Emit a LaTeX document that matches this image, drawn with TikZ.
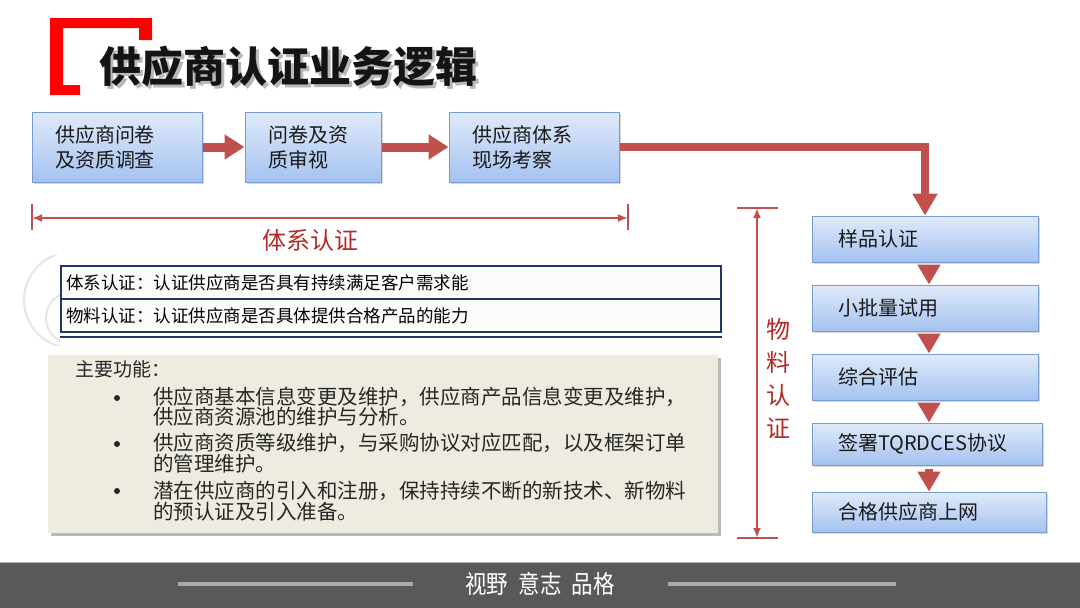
\documentclass[tikz,border=0pt]{standalone}
\usepackage{fontspec}
\setmainfont{Noto Sans CJK SC}
\usetikzlibrary{arrows.meta,shadows,calc}
\definecolor{ared}{RGB}{192,80,77}
\definecolor{dred}{RGB}{180,40,40}
\definecolor{bxtop}{RGB}{224,234,250}
\definecolor{bxbot}{RGB}{164,194,240}
\definecolor{bxline}{RGB}{120,156,206}
\definecolor{navy}{RGB}{31,56,100}
\definecolor{beige}{RGB}{238,236,225}
\definecolor{foot}{RGB}{89,89,89}
\definecolor{footline}{RGB}{170,170,170}
\tikzset{
  flowbox/.style={draw=bxline, line width=1pt, top color=bxtop, bottom color=bxbot,
    drop shadow={shadow xshift=1.5pt,shadow yshift=-2pt,opacity=0.3},
    align=left, inner xsep=23pt, inner ysep=0pt,
    font=\fontsize{20}{25}\selectfont, text=black!90},
  blockarrow/.style={ared, line width=9pt, -{Triangle[length=20pt,width=24pt]}},
  downarrow/.style={ared, line width=8pt, -{Triangle[length=20pt,width=22pt]}},
  dimline/.style={ared, line width=2.5pt, {Latex[length=10pt,width=8pt]}-{Latex[length=10pt,width=8pt]}},
  dimtick/.style={ared, line width=2.5pt},
  defbox/.style={draw=navy, line width=2.2pt, fill=white!97!gray, align=left,
    inner xsep=5pt, anchor=north west, minimum height=33pt,
    font=\fontsize{17.5}{18}\selectfont},
  bodytext/.style={anchor=west, align=left, inner sep=0pt, font=\fontsize{20.5}{20.5}\selectfont, text=black!85},
  bulletmark/.style={circle, fill=black!85, inner sep=0pt, minimum size=6pt},
}
\begin{document}
\begin{tikzpicture}[x=1pt,y=-1pt]
\fill[white] (0,0) rectangle (1080,608);
\useasboundingbox (0,0) rectangle (1080,608);

% red bracket
\fill[red] (50,18) -- (152,18) -- (152,40) -- (139,40) -- (139,28) -- (63,28)
  -- (63,85) -- (80,85) -- (80,95) -- (50,95) -- cycle;

% title with soft shadow
\node[anchor=west, inner sep=0pt, text=black!92, font=\fontsize{42}{42}\selectfont\bfseries] (title) at (99,68)
  {\rlap{\hspace{3pt}\raisebox{-3pt}{\color{black!28}供应商认证业务逻辑}}供应商认证业务逻辑};

% top flow boxes
\node[flowbox, text width=124pt, minimum height=70pt] (b1) at (117,147) {供应商问卷\\及资质调查};
\node[flowbox, text width=90pt, minimum height=70pt] (b2) at (313,147) {问卷及资\\质审视};
\node[flowbox, text width=124pt, minimum height=70pt] (b3) at (534,147) {供应商体系\\现场考察};

% right column boxes
\node[flowbox, inner xsep=26pt, text width=174pt, minimum height=46pt] (s1) at (925,239) {样品认证};
\node[flowbox, inner xsep=26pt, text width=174pt, minimum height=46pt] (s2) at (925,308) {小批量试用};
\node[flowbox, inner xsep=26pt, text width=174pt, minimum height=46pt] (s3) at (925,377) {综合评估};
\node[flowbox, inner xsep=26pt, text width=178pt, minimum height=42pt] (s4) at (927,444) {签署TQRDCES协议};
\node[flowbox, inner xsep=26pt, text width=182pt, minimum height=40pt] (s5) at (929,512) {合格供应商上网};

% arrows
\draw[blockarrow] (b1.east) -- (b2.west);
\draw[blockarrow] (b2.east) -- (b3.west);
\draw[ared, line width=8pt, -{Triangle[length=22pt,width=24pt]}] (b3.east) -| (s1.north);
\coordinate (ax) at (929,0);
\draw[downarrow] ([yshift=-3pt]s1.south -| ax) -- (s2.north -| ax);
\draw[downarrow] ([yshift=-3pt]s2.south -| ax) -- (s3.north -| ax);
\draw[downarrow] ([yshift=-3pt]s3.south -| ax) -- (s4.north -| ax);
\draw[downarrow] ([yshift=-3pt]s4.south -| ax) -- (s5.north -| ax);

% horizontal dimension
\coordinate (hl) at (32,218);
\coordinate (hr) at (628,218);
\draw[dimline] (hl) -- (hr);
\draw[dimtick] ($(hl)+(0,-14)$) -- ($(hl)+(0,12)$);
\draw[dimtick] ($(hr)+(0,-14)$) -- ($(hr)+(0,12)$);
\node[text=dred, inner sep=0pt, font=\fontsize{24}{24}\selectfont] (lbl1) at (310,240) {体系认证};

% vertical dimension
\coordinate (vt) at (757,208);
\coordinate (vb) at (757,538);
\draw[dimline] (vt) -- (vb);
\draw[dimtick] ($(vt)+(-20,0)$) -- ($(vt)+(21,0)$);
\draw[dimtick] ($(vb)+(-20,0)$) -- ($(vb)+(21,0)$);
\node[text=dred, inner sep=0pt, align=center, font=\fontsize{24}{33}\selectfont] (lbl2) at (778,379) {物\\料\\认\\证};

% faint decoration circles
\begin{scope}
\clip (0,255) rectangle (60,345);
\draw[black!10, line width=2pt] (72,300) circle (48);
\draw[black!10, line width=2pt] (72,318) circle (26);
\end{scope}

% definition boxes
\node[defbox, text width=650pt] (da) at (60,265) {体系认证：认证供应商是否具有持续满足客户需求能};
\node[defbox, text width=650pt] (db) at (60,298) {物料认证：认证供应商是否具体提供合格产品的能力};
\draw[navy, line width=1.5pt] ($(db.south west)+(0,4)$) -- ($(db.south east)+(0,4)$);

% main function box
\node[fill=beige, anchor=north west, minimum width=670pt, minimum height=178pt,
  drop shadow={shadow xshift=3pt,shadow yshift=-3pt,opacity=0.45,fill=black!60}] (fb) at (48,355) {};
\node[bodytext, font=\fontsize{19}{19}\selectfont] (ft) at (75,369) {主要功能：};
\node[bulletmark] (bu1) at (117,398) {};
\node[bodytext] (t1) at (153,406.5) {供应商基本信息变更及维护，供应商产品信息变更及维护，\\供应商资源池的维护与分析。};
\node[bulletmark] (bu2) at (117,444) {};
\node[bodytext] (t2) at (153,453) {供应商资质等级维护，与采购协议对应匹配，以及框架订单\\的管理维护。};
\node[bulletmark] (bu3) at (117,491) {};
\node[bodytext] (t3) at (153,501) {潜在供应商的引入和注册，保持持续不断的新技术、新物料\\的预认证及引入准备。};

% footer
\fill[foot] (0,562) rectangle (1080,608);
\draw[black!30, line width=1pt] (0,562) -- (1080,562);
\draw[footline, line width=4pt] (178,584) -- (413,584);
\draw[footline, line width=4pt] (668,584) -- (896,584);
\node[text=white, inner sep=0pt, xscale=0.86, font=\fontsize{25}{25}\selectfont] (motto) at (540,584) {视野\hspace{12pt}意志\hspace{12pt}品格};
\end{tikzpicture}
\end{document}
